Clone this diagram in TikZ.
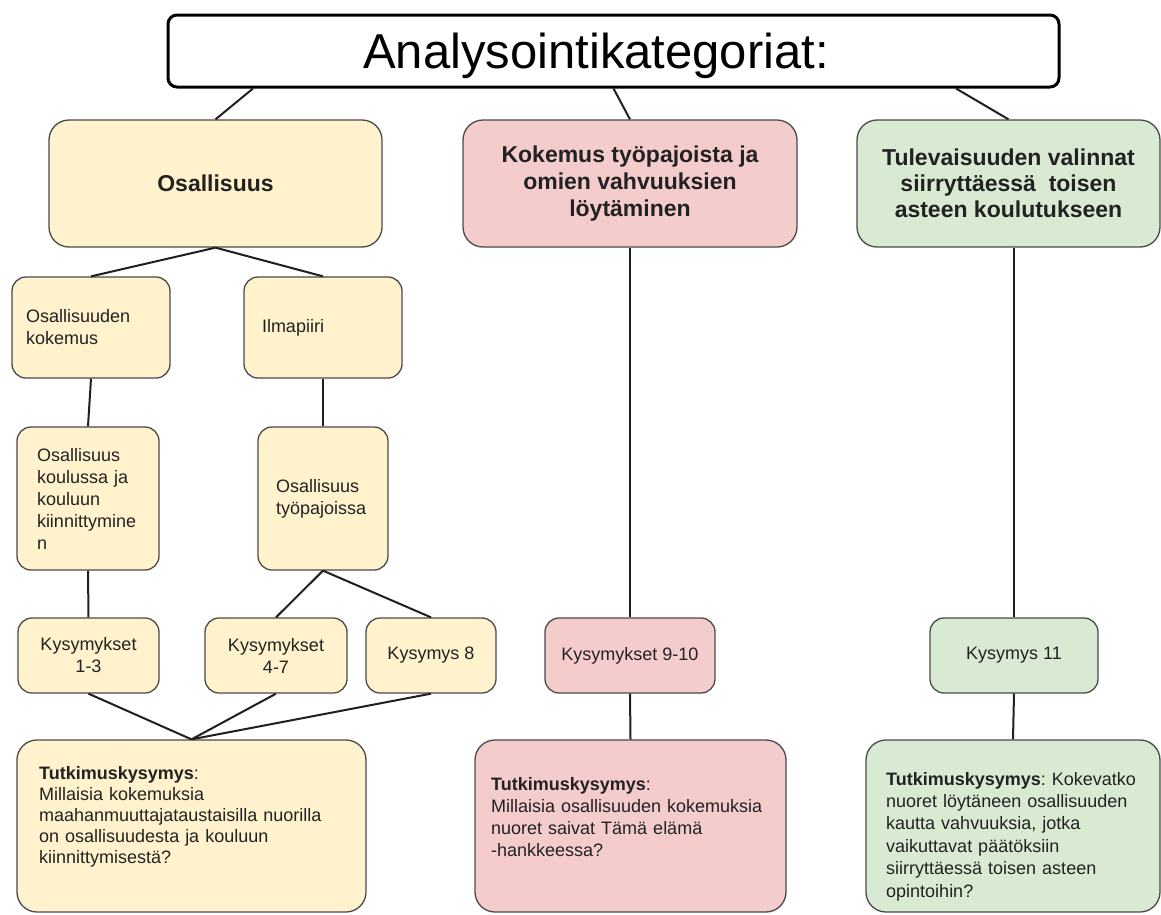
\documentclass[tikz,border=0pt]{standalone}
\usepackage{fontspec}
\setmainfont{Liberation Sans}
\frenchspacing
\definecolor{yel}{HTML}{FFF2CC}
\definecolor{pnk}{HTML}{F4CCCC}
\definecolor{grn}{HTML}{D9EAD3}
\definecolor{bord}{HTML}{4A4A4A}
\definecolor{txt}{HTML}{222222}
\tikzset{
  box/.style={draw=bord, line width=1.3pt, rounded corners=14pt, inner sep=0pt, text=txt},
  bigbox/.style={box, rounded corners=20pt},
  titlebox/.style={draw=black, line width=3pt, rounded corners=9pt, fill=white, inner sep=0pt},
  conn/.style={draw=black!88, line width=2pt},
  small/.style={font=\fontsize{18}{22}\selectfont, align=center},
  smallleft/.style={font=\fontsize{18}{22}\selectfont, align=left},
  head/.style={font=\bfseries\fontsize{23}{26}\selectfont, align=center},
  tutk/.style={inner sep=0pt, text=txt, align=left, text width=330pt},
}
\begin{document}
\begin{tikzpicture}[x=1pt,y=-1pt]
\path[use as bounding box] (0,0) rectangle (1161,914);
% title
\node[titlebox, minimum width=891pt, minimum height=72pt] (title) at (613.5,51) {};
\node[anchor=base, inner sep=0pt, font=\fontsize{49}{58}\selectfont] (titletext) at (596,68) {Analysointikategoriat:};
% top categories
\node[bigbox, fill=yel, minimum width=333pt, minimum height=127pt, head] (osa) at (215.5,183.5) {Osallisuus};
\node[bigbox, fill=pnk, minimum width=334pt, minimum height=127pt, head, font=\bfseries\fontsize{23}{27}\selectfont] (pk) at (630,183.5) {Kokemus työpajoista ja\\omien vahvuuksien\\löytäminen};
\node[bigbox, fill=grn, minimum width=303pt, minimum height=127pt, head] (gr) at (1008.5,183.5) {Tulevaisuuden valinnat\\siirryttäessä\ \ toisen\\asteen koulutukseen};
% second level
\node[box, fill=yel, minimum width=158pt, minimum height=101pt, smallleft, text width=130pt] (ok) at (91,327.5) {Osallisuuden\\kokemus};
\node[box, fill=yel, minimum width=158pt, minimum height=101pt, smallleft, text width=122pt] (ilm) at (323,327.5) {Ilmapiiri};
% third level
\node[box, fill=yel, minimum width=142pt, minimum height=143pt, smallleft, text width=102pt] (kou) at (88,498.5) {Osallisuus\\koulussa ja\\kouluun\\kiinnittymine\\n};
\node[box, fill=yel, minimum width=130pt, minimum height=143pt, smallleft, text width=94pt] (tyo) at (323,498.5) {Osallisuus\\työpajoissa};
% question boxes
\node[box, fill=yel, minimum width=141pt, minimum height=75pt, small] (k13) at (88.5,655.5) {Kysymykset\\1-3};
\node[box, fill=yel, minimum width=142pt, minimum height=75pt, small] (k47) at (276,655.5) {Kysymykset\\4-7};
\node[box, fill=yel, minimum width=130pt, minimum height=75pt, small] (k8) at (431,655.5) {Kysymys 8};
\node[box, fill=pnk, minimum width=170pt, minimum height=75pt, small] (k910) at (630,655.5) {Kysymykset 9-10};
\node[box, fill=grn, minimum width=168pt, minimum height=75pt, small] (k11) at (1014,655.5) {Kysymys 11};
% research question boxes
\node[bigbox, fill=yel, minimum width=349pt, minimum height=172pt] (tl) at (191.5,826) {};
\node[bigbox, fill=pnk, minimum width=311pt, minimum height=172pt] (tm) at (630.5,826) {};
\node[bigbox, fill=grn, minimum width=294pt, minimum height=172pt] (tr) at (1013,826) {};
\node[tutk, anchor=base west, font=\fontsize{18}{21}\selectfont] (tlt) at (39,779) {\textbf{Tutkimuskysymys}:\\Millaisia kokemuksia\\maahanmuuttajataustaisilla nuorilla\\on osallisuudesta ja kouluun\\kiinnittymisestä?};
\node[tutk, anchor=base west, font=\fontsize{18}{22}\selectfont] (tmt) at (491,790) {\textbf{Tutkimuskysymys}:\\Millaisia osallisuuden kokemuksia\\nuoret saivat Tämä elämä\\-hankkeessa?};
\node[tutk, anchor=base west, font=\fontsize{18}{22.4}\selectfont] (trt) at (886,785) {\textbf{Tutkimuskysymys}: Kokevatko\\nuoret löytäneen osallisuuden\\kautta vahvuuksia, jotka\\vaikuttavat päätöksiin\\siirryttäessä toisen asteen\\opintoihin?};
% connectors
\draw[conn] ([xshift=-360.5pt]title.south) -- (osa.north);
\draw[conn] (title.south) -- (pk.north);
\draw[conn] ([xshift=342.5pt]title.south) -- (gr.north);
\draw[conn] (osa.south) -- (ok.north);
\draw[conn] (osa.south) -- (ilm.north);
\draw[conn] (ok.south) -- (kou.north);
\draw[conn] (ilm.south) -- (tyo.north);
\draw[conn] (kou.south) -- (k13.north);
\draw[conn] (tyo.south) -- (k47.north);
\draw[conn] (tyo.south) -- (k8.north);
\draw[conn] (k13.south) -- (tl.north);
\draw[conn] (k47.south) -- (tl.north);
\draw[conn] (k8.south) -- (tl.north);
\draw[conn] (pk.south) -- (k910.north);
\draw[conn] (k910.south) -- (tm.north);
\draw[conn] (k11.north |- gr.south) -- (k11.north);
\draw[conn] (k11.south) -- (tr.north);
\end{tikzpicture}
\end{document}
